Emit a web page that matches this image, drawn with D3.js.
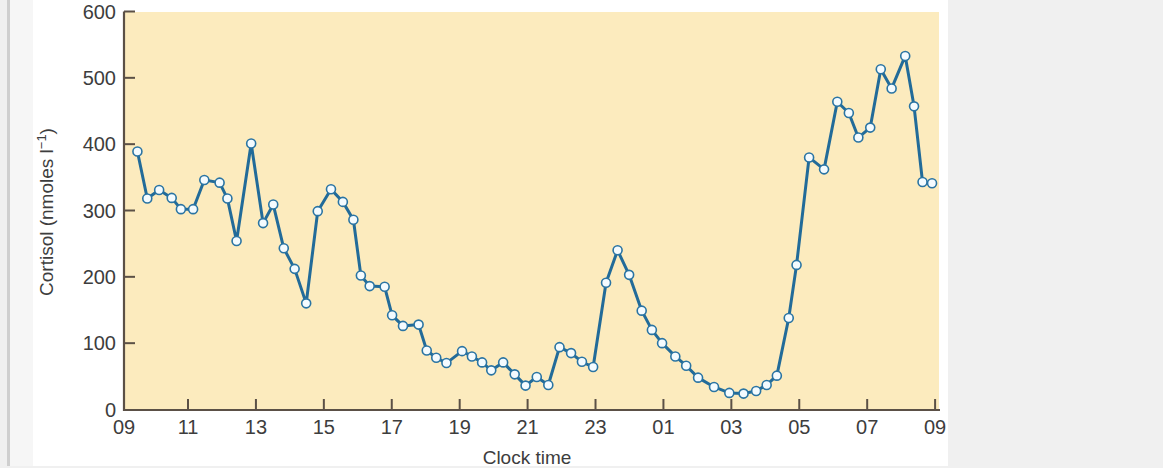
<!DOCTYPE html>
<html>
<head>
<meta charset="utf-8">
<script src="https://cdn.jsdelivr.net/npm/d3@7"></script>
<style>
  html, body { margin: 0; padding: 0; background: #f0f0f0; }
  svg { display: block; }
  text { font-family: "Liberation Sans", Arial, sans-serif; fill: #3d3d3d; }
</style>
</head>
<body>
<svg id="chart" width="1163" height="468"></svg>
<script>
// Sampling times, hours since 00:00 of day 1 (values > 24 are next morning)
const times = [
  9.51, 9.80, 10.15, 10.52, 10.79, 11.15, 11.48, 11.93, 12.16, 12.43,
  12.86, 13.21, 13.51, 13.82, 14.14, 14.48, 14.82, 15.21, 15.56, 15.87,
  16.09, 16.35, 16.79, 17.01, 17.33, 17.79, 18.03, 18.31, 18.61, 19.07,
  19.36, 19.66, 19.93, 20.28, 20.62, 20.94, 21.27, 21.61, 21.94, 22.28,
  22.60, 22.93, 23.31, 23.65, 23.99, 24.36, 24.66, 24.96, 25.35, 25.67,
  26.02, 26.49, 26.94, 27.36, 27.73, 28.04, 28.34, 28.69, 28.92, 29.29,
  29.73, 30.12, 30.46, 30.74, 31.09, 31.40, 31.72, 32.12, 32.38, 32.63,
  32.91
];
// Plasma cortisol, nmoles per litre
const cortisol = [
  389, 318, 331, 319, 302, 302, 346, 342, 318, 254,
  401, 281, 309, 243, 212, 160, 299, 332, 313, 286,
  202, 186, 185, 142, 126, 128, 89, 78, 70, 88,
  80, 71, 59, 71, 53, 36, 49, 37, 94, 85,
  72, 64, 191, 240, 203, 149, 120, 100, 80, 66,
  48, 34, 25, 24, 28, 37, 51, 138, 218, 380,
  362, 464, 447, 410, 425, 513, 484, 533, 457, 343,
  341
];
const xTickValues = [9, 11, 13, 15, 17, 19, 21, 23, 25, 27, 29, 31, 33];
const xTickLabels = ["09", "11", "13", "15", "17", "19", "21", "23", "01", "03", "05", "07", "09"];
const yTickValues = [0, 100, 200, 300, 400, 500, 600];

const svg = d3.select("#chart");

// page panels
svg.append("rect").attr("x", 0).attr("y", 0).attr("width", 1163).attr("height", 468).attr("fill", "#f0f0f0");
svg.append("rect").attr("x", 10).attr("y", 0).attr("width", 23).attr("height", 466).attr("fill", "#f6f6f6");
svg.append("rect").attr("x", 7).attr("y", 0).attr("width", 3).attr("height", 466).attr("fill", "#cfcfcf");
svg.append("rect").attr("x", 33).attr("y", 0).attr("width", 915).attr("height", 466).attr("fill", "#ffffff");

const plotLeft = 124, plotRight = 939, plotTop = 12, plotBottom = 410;
const fontSize = 20;

const x = d3.scaleLinear().domain([9, 33]).range([120.1, 935.1]);
const y = d3.scaleLinear().domain([0, 600]).range([409.5, 11.5]);

// plot background
svg.append("rect")
  .attr("x", plotLeft).attr("y", plotTop)
  .attr("width", plotRight - plotLeft).attr("height", plotBottom - plotTop)
  .attr("fill", "#fcebbe");

const axisColor = "#5b5046";
const clampX = v => Math.min(Math.max(x(v), plotLeft), plotRight);

// y axis
const yAxis = svg.append("g");
yAxis.append("line")
  .attr("x1", plotLeft).attr("x2", plotLeft)
  .attr("y1", y(600)).attr("y2", plotBottom + 1)
  .attr("stroke", axisColor).attr("stroke-width", 2.2);
yAxis.selectAll("line.tick").data(yTickValues.filter(v => v > 0)).enter()
  .append("line").attr("class", "tick")
  .attr("x1", plotLeft).attr("x2", plotLeft + 11)
  .attr("y1", d => y(d)).attr("y2", d => y(d))
  .attr("stroke", axisColor).attr("stroke-width", 2);
yAxis.selectAll("text").data(yTickValues).enter()
  .append("text")
  .attr("x", plotLeft - 8).attr("y", d => y(d))
  .attr("dy", "0.36em")
  .attr("text-anchor", "end")
  .attr("font-size", fontSize)
  .text(d => d);

// x axis
const xAxis = svg.append("g");
xAxis.append("line")
  .attr("x1", plotLeft - 1).attr("x2", plotRight + 1)
  .attr("y1", plotBottom).attr("y2", plotBottom)
  .attr("stroke", axisColor).attr("stroke-width", 2.2);
xAxis.selectAll("line.tick").data(xTickValues.slice(1)).enter()
  .append("line").attr("class", "tick")
  .attr("x1", d => clampX(d)).attr("x2", d => clampX(d))
  .attr("y1", plotBottom).attr("y2", plotBottom - 11)
  .attr("stroke", axisColor).attr("stroke-width", 2);
xAxis.selectAll("text").data(xTickValues).enter()
  .append("text")
  .attr("x", d => clampX(d)).attr("y", plotBottom + 24)
  .attr("text-anchor", "middle")
  .attr("font-size", fontSize)
  .text((d, i) => xTickLabels[i]);

// axis titles
svg.append("text")
  .attr("x", 527).attr("y", 464)
  .attr("text-anchor", "middle")
  .attr("font-size", fontSize - 1)
  .text("Clock time");

const yt = svg.append("text")
  .attr("transform", "translate(53,212) rotate(-90)")
  .attr("text-anchor", "middle")
  .attr("font-size", fontSize - 1);
yt.append("tspan").text("Cortisol (nmoles l");
yt.append("tspan").attr("baseline-shift", "super").attr("font-size", 13).text("\u22121");
yt.append("tspan").text(")");

// data
const data = times.map((t, i) => ({ t, v: cortisol[i] }));
const line = d3.line().x(d => x(d.t)).y(d => y(d.v));

svg.append("path")
  .datum(data)
  .attr("d", line)
  .attr("fill", "none")
  .attr("stroke", "#226b99")
  .attr("stroke-width", 3)
  .attr("stroke-linejoin", "round");

svg.selectAll("circle.pt").data(data).enter()
  .append("circle").attr("class", "pt")
  .attr("cx", d => x(d.t)).attr("cy", d => y(d.v))
  .attr("r", 4.5)
  .attr("fill", "#f4fbff")
  .attr("stroke", "#2a74a3")
  .attr("stroke-width", 1.6);
</script>
</body>
</html>
